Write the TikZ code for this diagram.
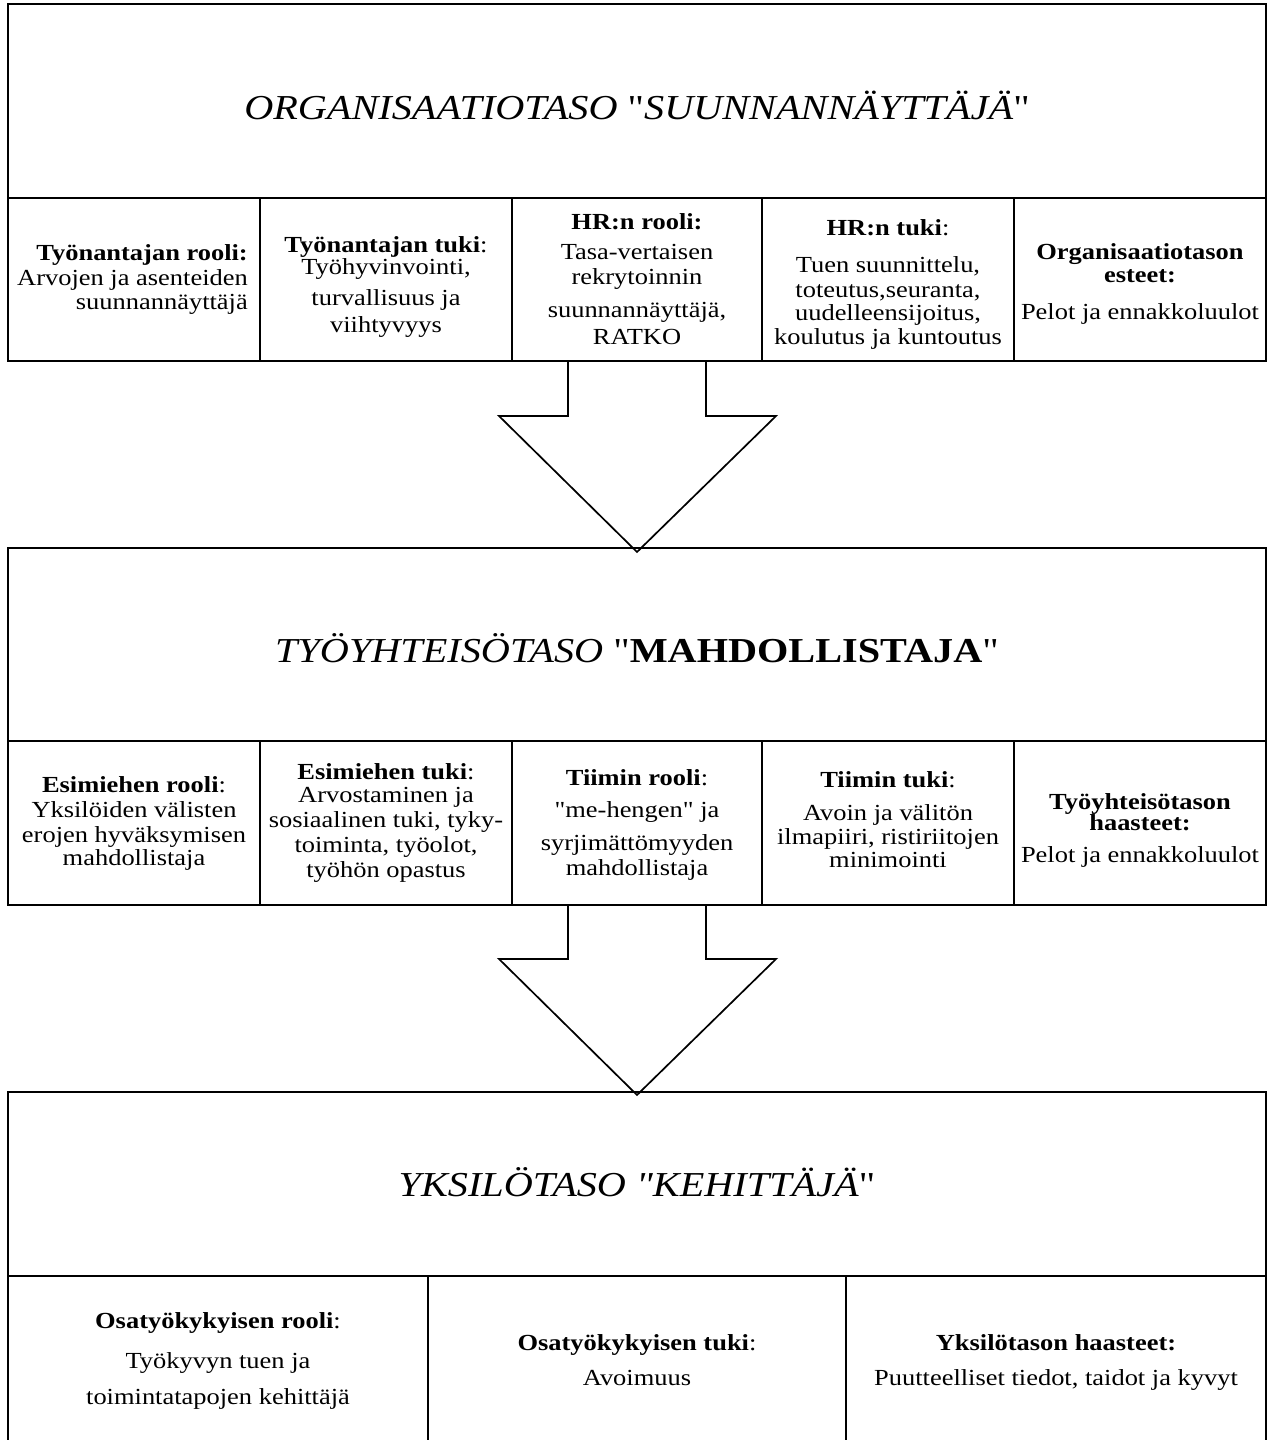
\documentclass[tikz,border=0pt]{standalone}
\usepackage{fontspec}
\setmainfont{Liberation Serif}[FakeStretch=1.15, Ligatures=TeXOff]
\usetikzlibrary{calc}
\begin{document}
\begin{tikzpicture}[x=1pt,y=1pt,
  frame/.style={draw, line width=1.7pt, rectangle, inner sep=0pt, outer sep=0pt},
  rule/.style={line width=1.7pt},
  title/.style={font=\fontsize{35}{40}\selectfont, inner sep=0pt, anchor=base},
  ln/.style={font=\fontsize{23}{26}\selectfont, inner sep=0pt, anchor=base},
  lnr/.style={ln, anchor=base east},
  bigarrow/.style={draw, line width=1.7pt, line join=miter}]
\useasboundingbox (0,0) rectangle (1273,-1440);
\fill[white] (0,0) rectangle (1273,-1440);

% ---------- organisation level ----------
\node[frame, minimum width=1258pt, minimum height=357pt] (org) at (637,-182.5) {};
\draw[rule] (8,-198) -- (1266,-198);
\foreach \x in {260,512,762,1014} \draw[rule] (\x,-198) -- (\x,-361);
\node[title] (orgtitle) at (637,-119)
  {\textit{ORGANISAATIOTASO} "\textit{SUUNNANNÄYTTÄJÄ}"};

\node[lnr] (o1a) at (248,-260) {\textbf{Työnantajan rooli:}};
\node[lnr] (o1b) at (248,-285) {Arvojen ja asenteiden};
\node[lnr] (o1c) at (248,-309) {suunnannäyttäjä};

\node[ln] (o2a) at (386,-252) {\textbf{Työnantajan tuki}:};
\node[ln] (o2b) at (386,-274) {Työhyvinvointi,};
\node[ln] (o2c) at (386,-305) {turvallisuus ja};
\node[ln] (o2d) at (386,-332) {viihtyvyys};

\node[ln] (o3a) at (637,-229) {\textbf{HR:n rooli:}};
\node[ln] (o3b) at (637,-259) {Tasa-vertaisen};
\node[ln] (o3c) at (637,-284) {rekrytoinnin};
\node[ln] (o3d) at (637,-317) {suunnannäyttäjä,};
\node[ln] (o3e) at (637,-344) {RATKO};

\node[ln] (o4a) at (888,-235) {\textbf{HR:n tuki}:};
\node[ln] (o4b) at (888,-272) {Tuen suunnittelu,};
\node[ln] (o4c) at (888,-297) {toteutus,seuranta,};
\node[ln] (o4d) at (888,-320) {uudelleensijoitus,};
\node[ln] (o4e) at (888,-344) {koulutus ja kuntoutus};

\node[ln] (o5a) at (1140,-259) {\textbf{Organisaatiotason}};
\node[ln] (o5b) at (1140,-282) {\textbf{esteet:}};
\node[ln] (o5c) at (1140,-319) {Pelot ja ennakkoluulot};

% ---------- work community level ----------
\node[frame, minimum width=1258pt, minimum height=357pt] (com) at (637,-726.5) {};
\draw[rule] (8,-741) -- (1266,-741);
\foreach \x in {260,512,762,1014} \draw[rule] (\x,-741) -- (\x,-905);
\node[title] (comtitle) at (637,-662)
  {\textit{TYÖYHTEISÖTASO} "\textbf{MAHDOLLISTAJA}"};

\node[ln] (c1a) at (134,-792) {\textbf{Esimiehen rooli}:};
\node[ln] (c1b) at (134,-817) {Yksilöiden välisten};
\node[ln] (c1c) at (134,-842) {erojen hyväksymisen};
\node[ln] (c1d) at (134,-865) {mahdollistaja};

\node[ln] (c2a) at (386,-779) {\textbf{Esimiehen tuki}:};
\node[ln] (c2b) at (386,-802) {Arvostaminen ja};
\node[ln] (c2c) at (386,-827) {sosiaalinen tuki, tyky-};
\node[ln] (c2d) at (386,-852) {toiminta, työolot,};
\node[ln] (c2e) at (386,-877) {työhön opastus};

\node[ln] (c3a) at (637,-785) {\textbf{Tiimin rooli}:};
\node[ln] (c3b) at (637,-817) {"me-hengen" ja};
\node[ln] (c3c) at (637,-850) {syrjimättömyyden};
\node[ln] (c3d) at (637,-875) {mahdollistaja};

\node[ln] (c4a) at (888,-787) {\textbf{Tiimin tuki}:};
\node[ln] (c4b) at (888,-820) {Avoin ja välitön};
\node[ln] (c4c) at (888,-844) {ilmapiiri, ristiriitojen};
\node[ln] (c4d) at (888,-867) {minimointi};

\node[ln] (c5a) at (1140,-809) {\textbf{Työyhteisötason}};
\node[ln] (c5b) at (1140,-830) {\textbf{haasteet:}};
\node[ln] (c5c) at (1140,-862) {Pelot ja ennakkoluulot};

% ---------- individual level (runs off the bottom edge) ----------
\node[frame, minimum width=1258pt, minimum height=353pt] (ind) at (637,-1268.5) {};
\draw[rule] (8,-1276) -- (1266,-1276);
\foreach \x in {428,846} \draw[rule] (\x,-1276) -- (\x,-1445);
\node[title] (indtitle) at (637,-1196)
  {\textit{YKSILÖTASO "KEHITTÄJÄ}"};

\node[ln] (i1a) at (218,-1328) {\textbf{Osatyökykyisen rooli}:};
\node[ln] (i1b) at (218,-1368) {Työkyvyn tuen ja};
\node[ln] (i1c) at (218,-1404) {toimintatapojen kehittäjä};

\node[ln] (i2a) at (637,-1350) {\textbf{Osatyökykyisen tuki}:};
\node[ln] (i2b) at (637,-1385) {Avoimuus};

\node[ln] (i3a) at (1056,-1350) {\textbf{Yksilötason haasteet:}};
\node[ln] (i3b) at (1056,-1385) {Puutteelliset tiedot, taidot ja kyvyt};

% ---------- block arrows between the levels ----------
\draw[bigarrow] ($(org.south)+(-69,0)$) -- ++(0,-55) -- ++(-69,0)
  -- ($(com.north)+(0,-4)$) -- ($(org.south)+(139,-55)$) -- ++(-70,0) -- ++(0,55);
\draw[bigarrow] ($(com.south)+(-69,0)$) -- ++(0,-54) -- ++(-69,0)
  -- ($(ind.north)+(0,-3)$) -- ($(com.south)+(139,-54)$) -- ++(-70,0) -- ++(0,54);
\end{tikzpicture}
\end{document}
